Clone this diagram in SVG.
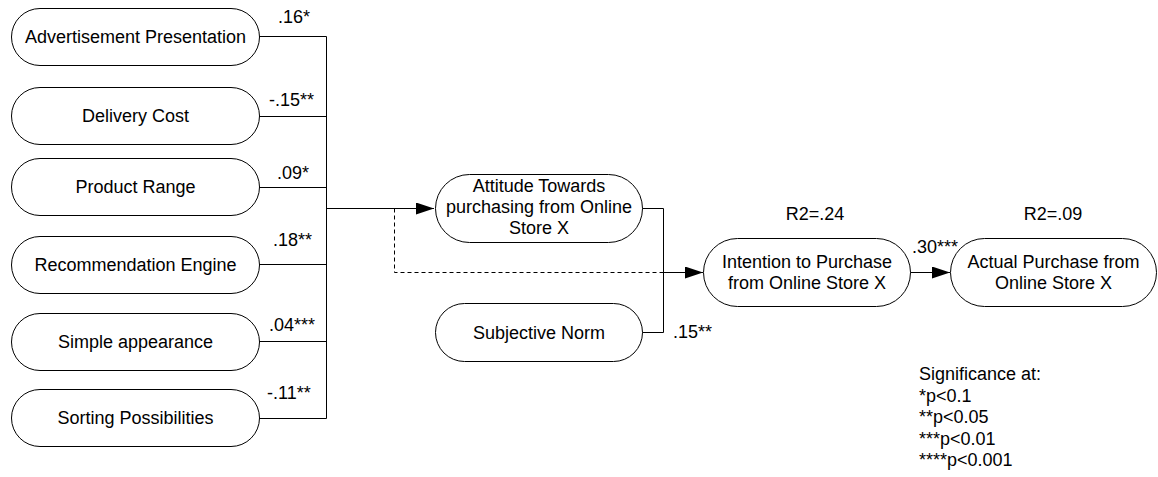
<svg xmlns="http://www.w3.org/2000/svg" width="1158" height="477" viewBox="0 0 1158 477">
<style>
.node{fill:#fff;stroke:#000;stroke-width:1}
.t{font-family:"Liberation Sans",Arial,sans-serif;font-size:18px;fill:#000}
.c{text-anchor:middle}
.ln{fill:none;stroke:#000;stroke-width:1}
.dash{fill:none;stroke:#000;stroke-width:1;stroke-dasharray:4,3}
</style>
<defs>
<marker id="arr" markerWidth="18" markerHeight="12" refX="18" refY="6" orient="auto" markerUnits="userSpaceOnUse">
<path d="M0,0 L18,6 L0,12 Z" fill="#000"/>
</marker>
</defs>
<rect width="1158" height="477" fill="#fff"/>
<g id="connectors">
<path class="ln" d="M259,36.5 H326.5 V418.5 H259"/>
<path class="ln" d="M259,116.5 H326.5"/>
<path class="ln" d="M259,187.5 H326.5"/>
<path class="ln" d="M259,264.5 H326.5"/>
<path class="ln" d="M259,341.5 H326.5"/>
<path class="ln" d="M326.5,208.5 H434" marker-end="url(#arr)"/>
<path class="dash" d="M394.5,208.5 V272.5 H663"/>
<path class="ln" d="M642,208.5 H663.5 V332.5 H642"/>
<path class="ln" d="M663.5,272.5 H703" marker-end="url(#arr)"/>
<path class="ln" d="M910,272.5 H950" marker-end="url(#arr)"/>
<text class="t" x="278" y="23" font-size="17">.16*</text>
<text class="t" x="269" y="106" font-size="17">-.15**</text>
<text class="t" x="277" y="179" font-size="17">.09*</text>
<text class="t" x="273" y="246" font-size="17">.18**</text>
<text class="t" x="269" y="331" font-size="17">.04***</text>
<text class="t" x="267" y="399" font-size="17">-.11**</text>
<text class="t" x="673" y="338" font-size="17">.15**</text>
<text class="t" x="912" y="253" font-size="17">.30***</text>
</g>
<g id="n-adv"><rect class="node" x="11.5" y="8.5" width="248" height="57" rx="28.5"/><text class="t c" x="135.5" y="43">Advertisement Presentation</text></g>
<g id="n-delivery"><rect class="node" x="11.5" y="87.5" width="248" height="57" rx="28.5"/><text class="t c" x="135.5" y="122">Delivery Cost</text></g>
<g id="n-product"><rect class="node" x="11.5" y="158.5" width="248" height="57" rx="28.5"/><text class="t c" x="135.5" y="193">Product Range</text></g>
<g id="n-rec"><rect class="node" x="11.5" y="236.5" width="248" height="57" rx="28.5"/><text class="t c" x="135.5" y="271">Recommendation Engine</text></g>
<g id="n-simple"><rect class="node" x="11.5" y="313.5" width="248" height="57" rx="28.5"/><text class="t c" x="135.5" y="348">Simple appearance</text></g>
<g id="n-sorting"><rect class="node" x="11.5" y="389.5" width="248" height="57" rx="28.5"/><text class="t c" x="135.5" y="424">Sorting Possibilities</text></g>
<g id="n-attitude"><rect class="node" x="435.5" y="174.5" width="207" height="68" rx="34"/><text class="t c" x="539" y="191.5">Attitude Towards</text><text class="t c" x="539" y="212.5">purchasing from Online</text><text class="t c" x="539" y="233.5">Store X</text></g>
<g id="n-subjective"><rect class="node" x="435.5" y="303.5" width="207" height="58" rx="29"/><text class="t c" x="539" y="339">Subjective Norm</text></g>
<g id="n-intention"><rect class="node" x="703.5" y="238.5" width="207" height="68" rx="34"/><text class="t c" x="807" y="267.5">Intention to Purchase</text><text class="t c" x="807" y="288.5">from Online Store X</text></g>
<g id="n-actual"><rect class="node" x="950.5" y="238.5" width="206" height="68" rx="34"/><text class="t c" x="1053.5" y="267.5">Actual Purchase from</text><text class="t c" x="1053.5" y="288.5">Online Store X</text></g>
<g id="r2"><text class="t c" x="815" y="220" font-size="17.5">R2=.24</text><text class="t c" x="1053" y="220" font-size="17.5">R2=.09</text></g>
<g id="legend">
<text class="t" x="919" y="380" font-size="17.5">Significance at:</text>
<text class="t" x="919" y="401.5" font-size="17.5">*p&lt;0.1</text>
<text class="t" x="919" y="423" font-size="17.5">**p&lt;0.05</text>
<text class="t" x="919" y="444.5" font-size="17.5">***p&lt;0.01</text>
<text class="t" x="919" y="466" font-size="17.5">****p&lt;0.001</text>
</g>
</svg>
